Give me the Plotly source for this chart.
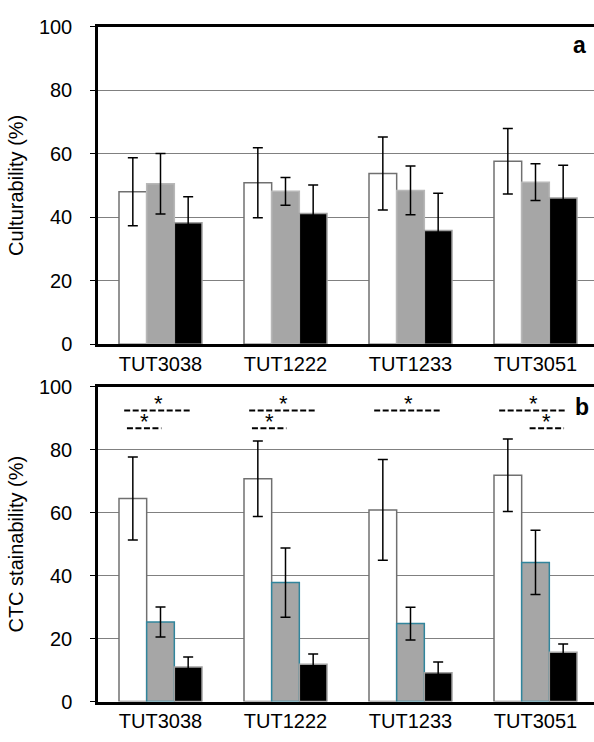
import plotly.graph_objects as go

strains = ["TUT3038", "TUT1222", "TUT1233", "TUT3051"]

# Panel a: Culturability (%)
cult_white = [48.0, 50.8, 53.7, 57.6]
cult_white_err = [10.7, 11.0, 11.5, 10.3]
cult_gray = [50.5, 48.1, 48.4, 51.0]
cult_gray_err = [9.5, 4.4, 7.7, 5.8]
cult_black = [38.2, 41.1, 35.8, 46.0]
cult_black_err = [8.2, 9.0, 11.7, 10.3]

# Panel b: CTC stainability (%)
ctc_white = [64.5, 70.8, 60.9, 71.9]
ctc_white_err = [13.2, 12.0, 16.0, 11.5]
ctc_gray = [25.3, 37.8, 24.8, 44.2]
ctc_gray_err = [4.75, 11.0, 5.2, 10.2]
ctc_black = [11.0, 11.9, 9.2, 15.7]
ctc_black_err = [3.2, 3.2, 3.4, 2.6]

# Significance comparisons in panel b (strain, series index from, series index to)
sig_strain = ["TUT3038", "TUT3038", "TUT1222", "TUT1222", "TUT1233", "TUT3051", "TUT3051"]
sig_from = [0, 0, 0, 0, 0, 0, 1]
sig_to = [2, 1, 2, 1, 2, 2, 2]

y_ticks = [0, 20, 40, 60, 80, 100]

FONT = "Liberation Sans, Arial, sans-serif"
W, H = 594, 742
LEFT = 98
CAT_W = 125
BARGAP = 0.336
BAR_W = (1 - BARGAP) / 3  # in category units

fig = go.Figure()

def add_bars(vals, errs, fill, outline, xa, ya, name):
    fig.add_trace(go.Bar(
        x=strains, y=vals, name=name, showlegend=False,
        marker=dict(color=fill, line=dict(color=outline, width=1.5)),
        error_y=dict(type="data", array=errs, visible=True, color="black",
                     thickness=1.5, width=5),
        xaxis=xa, yaxis=ya,
    ))

add_bars(cult_white, cult_white_err, "white", "#707070", "x", "y", "Series 1")
add_bars(cult_gray, cult_gray_err, "#A6A6A6", "#B8B8B8", "x", "y", "Series 2")
add_bars(cult_black, cult_black_err, "black", "#A0A0A0", "x", "y", "Series 3")

add_bars(ctc_white, ctc_white_err, "white", "#707070", "x2", "y2", "Series 1")
add_bars(ctc_gray, ctc_gray_err, "#A6A6A6", "#31859C", "x2", "y2", "Series 2")
add_bars(ctc_black, ctc_black_err, "black", "#A0A0A0", "x2", "y2", "Series 3")

x_end = -0.5 + (W - LEFT) / CAT_W

def yax(dom, title):
    return dict(
        domain=dom, range=[0, 100], tickvals=y_ticks, showgrid=True,
        gridcolor="#808080", gridwidth=1, showline=True, linecolor="black",
        linewidth=2.5, ticks="outside", ticklen=5, tickcolor="black",
        tickwidth=1, ticklabelstandoff=14,
        tickfont=dict(family=FONT, size=20, color="black"),
        title=dict(text=title, font=dict(family=FONT, size=20, color="black"),
                   standoff=10),
        zeroline=False, fixedrange=True,
    )

def xax(anchor):
    return dict(
        domain=[LEFT / W, 1], range=[-0.5, x_end], type="category",
        showline=True, linecolor="black", linewidth=2.5, mirror=True,
        ticks="", tickfont=dict(family=FONT, size=20, color="black"),
        anchor=anchor, showgrid=False, fixedrange=True,
    )

dom_a = [1 - 343.3 / H, 1 - 16 / H]
dom_b = [1 - 711.7 / H, 1 - 387.3 / H]

fig.update_layout(
    width=W, height=H,
    margin=dict(l=0, r=0, t=0, b=0),
    paper_bgcolor="white", plot_bgcolor="white",
    barmode="group", bargap=BARGAP, bargroupgap=0,
    xaxis=xax("y"), yaxis=yax(dom_a, "Culturability (%)"),
    xaxis2=xax("y2"), yaxis2=yax(dom_b, "CTC stainability (%)"),
    font=dict(family=FONT, color="black"),
)
fig.update_layout(yaxis=dict(anchor="x"), yaxis2=dict(anchor="x2"))

# Panel letters
fig.add_annotation(text="<b>a</b>", x=0.99, y=1 - 35 / H, xref="paper", yref="paper",
                   xanchor="right", yanchor="middle", showarrow=False,
                   font=dict(family=FONT, size=23, color="black"))
fig.add_annotation(text="<b>b</b>", x=0.995, y=1 - 408 / H, xref="paper", yref="paper",
                   xanchor="right", yanchor="middle", showarrow=False,
                   font=dict(family=FONT, size=23, color="black"))

# Significance lines
for s, a, b in zip(sig_strain, sig_from, sig_to):
    ci = strains.index(s)
    ca = ci + (a - 1) * BAR_W
    cb = ci + (b - 1) * BAR_W
    d = cb - ca
    mid = (ca + cb) / 2 - 0.02
    half = 0.6 * d + 0.005
    level = 92.5 if (b - a) == 2 else 86.8
    fig.add_shape(type="line", xref="x2", yref="y2", x0=mid - half, x1=mid + half,
                  y0=level, y1=level,
                  line=dict(color="black", width=2, dash="6px,2.5px"))
    fig.add_annotation(text="*", x=mid, y=level, xref="x2", yref="y2",
                       xanchor="center", yanchor="bottom", showarrow=False, yshift=-8,
                       font=dict(family=FONT, size=22, color="black"))

fig.write_html("out.html")
